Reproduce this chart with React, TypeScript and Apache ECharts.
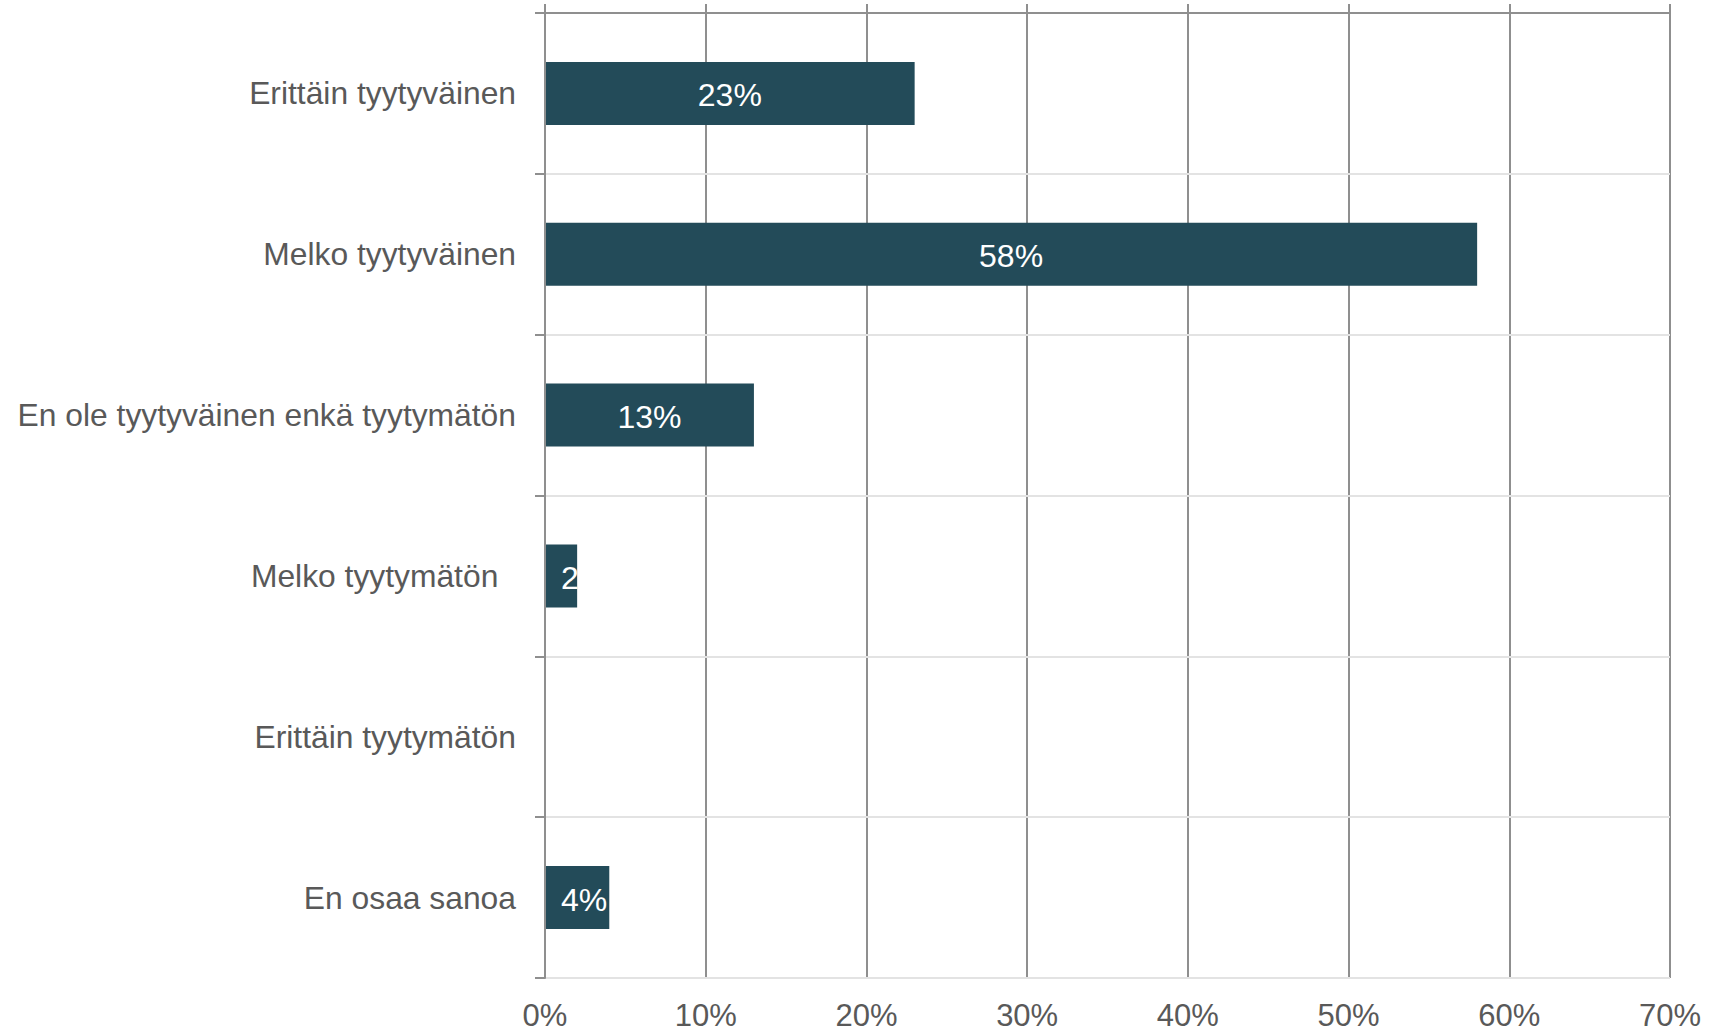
import React, { useEffect, useRef } from "react";
import * as echarts from "echarts";

const categories = [
  "Erittäin tyytyväinen",
  "Melko tyytyväinen",
  "En ole tyytyväinen enkä tyytymätön",
  "Melko tyytymätön\u00a0\u00a0",
  "Erittäin tyytymätön",
  "En osaa sanoa",
];
const values = [23, 58, 13, 2, 0, 4];
const axisMin = 0;
const axisMax = 70;
const axisStep = 10;

const FONT = "'Liberation Sans', Arial, sans-serif";
const TEXT = "#595959";
const DARK = "#8f8f8f";
const LIGHT = "#e3e3e3";
const BAR = "#234b59";

export default function App() {
  const ref = useRef<HTMLDivElement>(null);
  useEffect(() => {
    document.body.style.margin = "0";
    const chart = echarts.init(ref.current!, null, { renderer: "svg" });
    const data = values.map((v) => {
      if (v > 0 && v < 5) {
        return { value: v, label: { position: "insideLeft", distance: 16 } };
      }
      return { value: v };
    });
    chart.setOption({
      animation: false,
      grid: { left: 545, right: 44, top: 13, bottom: 54, containLabel: false },
      xAxis: [
        {
          type: "value",
          min: axisMin,
          max: axisMax,
          interval: axisStep,
          position: "bottom",
          z: 1,
          axisLine: { show: false },
          axisTick: { show: false },
          axisLabel: {
            formatter: "{value}%",
            color: TEXT,
            fontSize: 31,
            fontFamily: FONT,
            margin: 22,
          },
          splitLine: { show: true, lineStyle: { color: DARK, width: 2 } },
        },
        {
          type: "value",
          min: axisMin,
          max: axisMax,
          interval: axisStep,
          position: "top",
          z: 4,
          axisLine: { show: true, lineStyle: { color: DARK, width: 2 } },
          axisTick: { show: true, length: 9, lineStyle: { color: DARK, width: 2 } },
          axisLabel: { show: false },
          splitLine: { show: false },
        },
      ],
      yAxis: {
        type: "category",
        data: categories,
        inverse: true,
        z: 3,
        axisLine: { show: true, lineStyle: { color: DARK, width: 2 } },
        axisTick: { show: true, length: 10, lineStyle: { color: DARK, width: 2 } },
        axisLabel: {
          color: TEXT,
          fontSize: 31.8,
          fontFamily: FONT,
          margin: 29,
        },
        splitLine: { show: true, lineStyle: { color: LIGHT, width: 2 } },
      },
      series: [
        {
          type: "bar",
          xAxisIndex: 0,
          data,
          barWidth: 63,
          itemStyle: { color: BAR },
          label: {
            show: true,
            position: "inside",
            offset: [0, 2],
            color: "#ffffff",
            fontSize: 32,
            fontFamily: FONT,
            // bars too narrow for the whole label show only the number (clipped at the bar end)
            formatter: (p: any) =>
              p.value <= 0 ? "" : p.value < 3 ? String(p.value) : p.value + "%",
          },
        },
      ],
    });
    return () => chart.dispose();
  }, []);
  return <div ref={ref} style={{ width: 1714, height: 1032 }} />;
}
